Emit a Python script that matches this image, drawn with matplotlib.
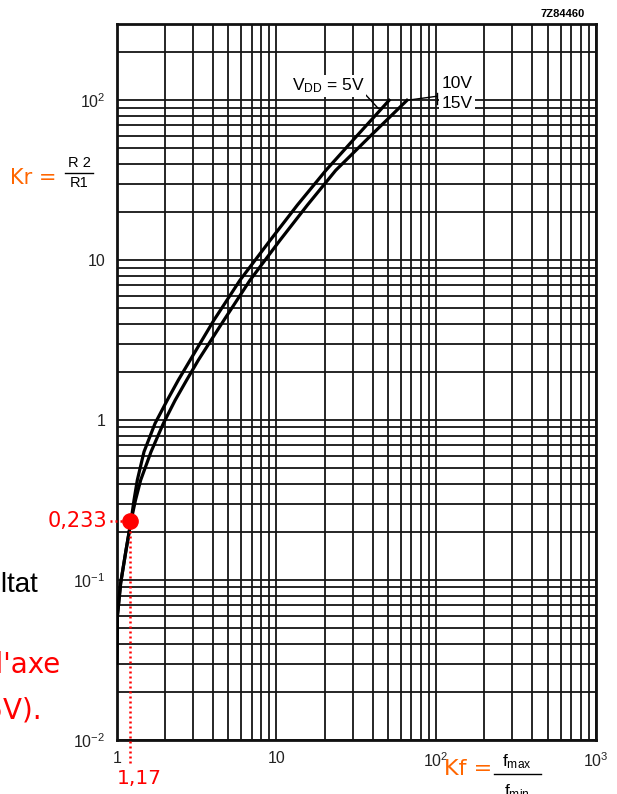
import matplotlib
matplotlib.use('Agg')
import matplotlib.pyplot as plt
from matplotlib.ticker import FixedLocator, FixedFormatter, LogLocator, NullFormatter

plt.rcParams['font.family'] = ['Liberation Sans', 'DejaVu Sans']
plt.rcParams['mathtext.default'] = 'regular'

kr = [0.0303, 0.059, 0.0958, 0.154, 0.234, 0.316, 0.422, 0.634, 0.953, 1.33,
      1.78, 2.37, 4.22, 7.50, 13.3, 22.1, 36.5, 60.4, 100]
kf_5v = [1.0, 1.009, 1.059, 1.144, 1.229, 1.283, 1.346, 1.482, 1.737, 2.07,
         2.43, 2.88, 4.06, 5.91, 9.12, 13.5, 20.4, 32.1, 50.7]
kf_10v = [1.0, 1.009, 1.059, 1.144, 1.229, 1.311, 1.413, 1.64, 1.958, 2.32,
          2.74, 3.24, 4.69, 6.83, 10.5, 15.6, 23.5, 39.1, 65.6]

# point de lecture (VDD = 5V)
point_kf = 1.22
point_kr = 0.233
point_kf_txt = '1,17'
point_kr_txt = '0,233'

x_ticks = [1, 10, 100, 1000]
x_labels = ['1', '10', '$10^{2}$', '$10^{3}$']
y_ticks = [0.01, 0.1, 1, 10, 100]
y_labels = ['$10^{-2}$', '$10^{-1}$', '1', '10', '$10^{2}$']

W, H = 617, 794
def px(x, y):
    # pixel -> coordonnees figure
    return x / W, 1 - y / H

fig = plt.figure(figsize=(W / 100, H / 100), dpi=100)
ax = fig.add_axes([116.7 / W, 1 - 740 / H, (596 - 116.7) / W, (740 - 24) / H])
ax.set_xscale('log')
ax.set_yscale('log')
ax.set_xlim(1, 1000)
ax.set_ylim(0.01, 300)

ax.xaxis.set_major_locator(FixedLocator(x_ticks))
ax.xaxis.set_major_formatter(FixedFormatter(x_labels))
ax.yaxis.set_major_locator(FixedLocator(y_ticks))
ax.yaxis.set_major_formatter(FixedFormatter(y_labels))
for axis in (ax.xaxis, ax.yaxis):
    axis.set_minor_locator(LogLocator(base=10, subs=range(2, 10), numticks=20))
    axis.set_minor_formatter(NullFormatter())
ax.tick_params(which='both', length=0, labelsize=11.5, pad=8, colors='#222222')
ax.grid(True, which='both', color='#151515', linewidth=1.3)
for s in ax.spines.values():
    s.set_linewidth(2)
    s.set_color('#111111')

# courbes
ax.plot(kf_5v, kr, color='black', linewidth=2.3, zorder=3, solid_joinstyle='round')
ax.plot(kf_10v, kr, color='black', linewidth=2.3, zorder=3, solid_joinstyle='round')

# etiquettes des courbes
box = dict(facecolor='white', edgecolor='none', pad=1.5)
fig.text(*px(328, 86), 'V$_{DD}$ = 5V', ha='center', va='center', fontsize=12.5, bbox=box)
fig.text(*px(457, 84), '10V', ha='center', va='center', fontsize=12.5, bbox=box)
fig.text(*px(457, 104), '15V', ha='center', va='center', fontsize=12.5, bbox=box)
ax.plot([36.4, 43.3], [107.5, 89.1], color='black', linewidth=1, zorder=4)
ax.plot([kf_10v[-1], 101], [kr[-1], 106], color='black', linewidth=1, zorder=4)
ax.plot([101, 101], [94.4, 110.6], color='black', linewidth=1, zorder=4)

fig.text(*px(585, 14), '7Z84460', ha='right', va='center', fontsize=8, fontweight='bold')

# point rouge et pointilles
ax.plot([point_kf], [point_kr], 'o', color='red', markersize=11, zorder=5, clip_on=False)
ax.plot([0.91, point_kf], [point_kr, point_kr], color='red', linewidth=1.8,
        linestyle=(0, (0.8, 1.2)), zorder=5, clip_on=False)
ax.plot([point_kf, point_kf], [point_kr, 0.0069], color='red', linewidth=1.8,
        linestyle=(0, (0.8, 1.2)), zorder=5, clip_on=False)
fig.text(*px(107, 521), point_kr_txt, ha='right', va='center', fontsize=15,
         color='red', family='DejaVu Sans')
fig.text(*px(117, 778), point_kf_txt, ha='left', va='center', fontsize=14.5,
         color='red', family='DejaVu Sans')

# titres des axes
orange = '#FF6600'
fig.text(*px(33, 178), 'Kr =', ha='center', va='center', fontsize=15, color=orange,
         family='DejaVu Sans')
fig.text(*px(79, 163), 'R 2', ha='center', va='center', fontsize=10.5)
fig.text(*px(79, 183), 'R1', ha='center', va='center', fontsize=10.5)
fig.add_artist(plt.Line2D([px(65, 0)[0], px(93, 0)[0]], [px(0, 173)[1]] * 2,
                          color='black', linewidth=1))
fig.text(*px(468, 769), 'Kf =', ha='center', va='center', fontsize=16, color=orange,
         family='DejaVu Sans')
fig.text(*px(517, 762), 'f$_{max}$', ha='center', va='center', fontsize=12.5)
fig.text(*px(517, 792), 'f$_{min}$', ha='center', va='center', fontsize=12.5)
fig.add_artist(plt.Line2D([px(494, 0)[0], px(541, 0)[0]], [px(0, 774)[1]] * 2,
                          color='black', linewidth=1))

# morceaux de texte de la diapositive
fig.text(*px(38, 585), 'résultat', ha='right', va='center', fontsize=20)
fig.text(*px(60, 665), "sur l'axe", ha='right', va='center', fontsize=20, color='red',
         family='DejaVu Sans')
fig.text(*px(42, 710), '(15V).', ha='right', va='center', fontsize=20, color='red',
         family='DejaVu Sans')

fig.savefig('out.png', dpi=100)
